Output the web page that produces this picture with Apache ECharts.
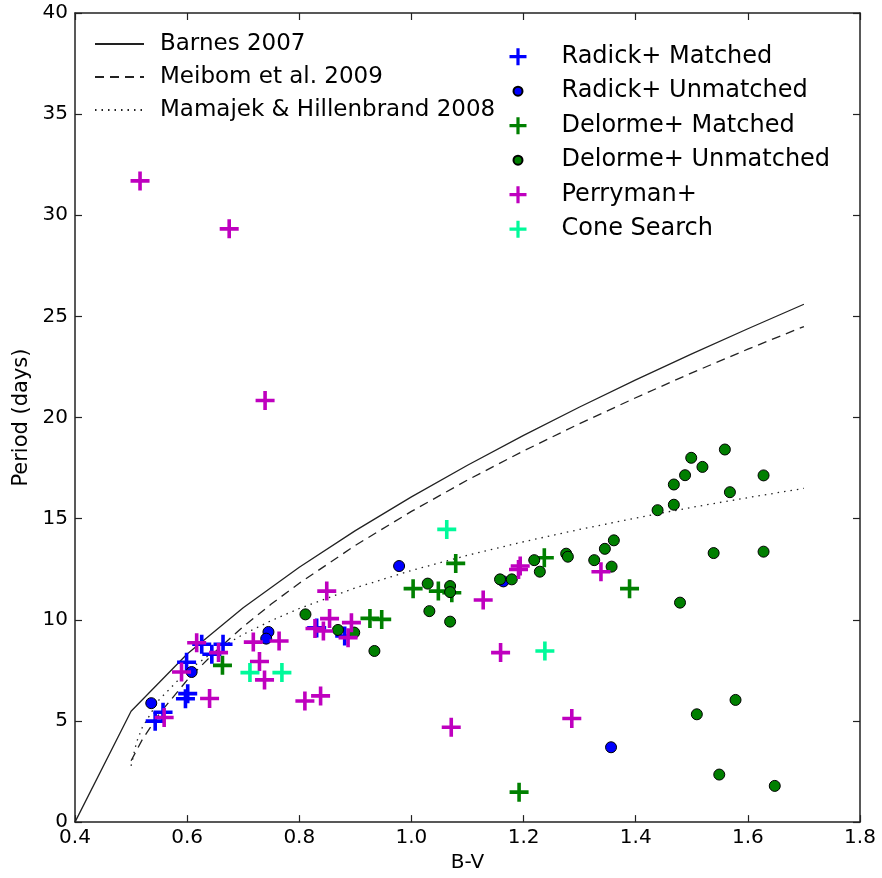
<!DOCTYPE html>
<html>
<head>
<meta charset="utf-8">
<script src="https://cdn.jsdelivr.net/npm/echarts@6/dist/echarts.min.js"></script>
<style>
  html, body { margin: 0; padding: 0; background: #ffffff; }
  #chart { width: 882px; height: 878px; }
</style>
</head>
<body>
<div id="chart"></div>
<script>
// Gyrochronology relations: colour index B-V against rotation period (days)
const barnesBV = [0.4, 0.5, 0.6, 0.7, 0.8, 0.9, 1.0, 1.1, 1.2, 1.3, 1.4, 1.5, 1.6, 1.7];
const barnesP  = [0, 5.48, 8.31, 10.60, 12.60, 14.41, 16.08, 17.64, 19.12, 20.52, 21.86, 23.15, 24.39, 25.60];

const meibomBV = [0.5, 0.52, 0.55, 0.6, 0.65, 0.7, 0.75, 0.8, 0.9, 1.0, 1.1, 1.2, 1.3, 1.4, 1.5, 1.6, 1.7];
const meibomP  = [3.03, 4.08, 5.34, 7.02, 8.42, 9.66, 10.78, 11.81, 13.68, 15.36, 16.91, 18.35, 19.70, 20.98, 22.21, 23.38, 24.50];

const mamajekBV = [0.5, 0.51, 0.52, 0.55, 0.6, 0.65, 0.7, 0.75, 0.8, 0.9, 1.0, 1.1, 1.2, 1.3, 1.4, 1.5, 1.6, 1.7];
const mamajekP  = [2.78, 3.97, 4.68, 6.05, 7.47, 8.47, 9.28, 9.96, 10.56, 11.58, 12.44, 13.19, 13.86, 14.47, 15.03, 15.56, 16.04, 16.50];

// Observed stars: [B-V, period]
const radickMatched = [
  [0.543, 4.99], [0.557, 5.43], [0.597, 6.10], [0.601, 6.35], [0.599, 7.90],
  [0.626, 8.79], [0.644, 8.30], [0.664, 8.79], [0.831, 9.60], [0.881, 9.20]
];
const radickUnmatched = [
  [0.536, 5.88], [0.608, 7.42], [0.745, 9.40], [0.741, 9.07], [0.978, 12.66],
  [1.356, 3.70], [1.164, 11.90]
];
const delormeMatched = [
  [0.663, 7.75], [1.003, 11.54], [1.048, 11.42], [1.072, 11.34], [1.079, 12.79],
  [0.926, 10.07], [0.947, 10.02], [1.237, 13.07], [1.389, 11.54], [1.192, 1.48]
];
const delormeUnmatched = [
  [0.811, 10.27], [0.869, 9.50], [0.898, 9.37], [0.934, 8.46], [1.029, 11.79],
  [1.032, 10.43], [1.069, 11.67], [1.069, 11.37], [1.069, 9.91], [1.158, 12.00],
  [1.179, 12.00], [1.219, 12.95], [1.229, 12.38], [1.276, 13.27], [1.279, 13.12],
  [1.326, 12.95], [1.345, 13.51], [1.361, 13.93], [1.357, 12.63], [1.479, 10.85],
  [1.439, 15.42], [1.468, 15.69], [1.468, 16.69], [1.488, 17.15], [1.499, 18.01],
  [1.519, 17.56], [1.559, 18.42], [1.568, 16.31], [1.628, 17.14], [1.539, 13.30],
  [1.628, 13.37], [1.578, 6.04], [1.509, 5.33], [1.549, 2.35], [1.648, 1.79]
];
const perryman = [
  [0.516, 31.70], [0.675, 29.33], [0.739, 20.84], [0.617, 8.87], [0.656, 8.38],
  [0.590, 7.42], [0.559, 5.17], [0.640, 6.11], [0.718, 8.90], [0.764, 8.95],
  [0.729, 7.94], [0.738, 7.03], [0.810, 5.99], [0.838, 6.24], [0.849, 11.42],
  [0.854, 10.06], [0.828, 9.57], [0.843, 9.45], [0.893, 9.86], [0.887, 9.12],
  [1.128, 10.98], [1.159, 8.38], [1.194, 12.66], [1.191, 12.49], [1.338, 12.38],
  [1.286, 5.12], [1.071, 4.69]
];
const coneSearch = [
  [0.712, 7.39], [0.769, 7.39], [1.063, 14.47], [1.238, 8.46]
];

const xTicks = { min: 0.4, max: 1.8, step: 0.2 };
const yTicks = { min: 0, max: 40, step: 5 };

const FONT = 'DejaVu Sans';
const PLUS = 'path://M7.7,0H11.3V7.7H19V11.3H11.3V19H7.7V11.3H0V7.7H7.7Z';
// legend icons: a fixed box (first two moves) keeps the glyph at its drawn size and to the left
const PLUS_ICON = 'path://M0,0M47,17M6.9,0H10.1V6.9H17V10.1H10.1V17H6.9V10.1H0V6.9H6.9Z';
const DOT_ICON = 'path://M0,0M47,17M4,8.5a4.5,4.5 0 1,0 9,0a4.5,4.5 0 1,0 -9,0Z';

const zip = (xs, ys) => xs.map((x, i) => [x, ys[i]]);

const chart = echarts.init(document.getElementById('chart'), null, { renderer: 'canvas' });

const axisLine = { show: true, onZero: false, lineStyle: { color: '#222', width: 1.5 } };
const tick = { show: true, inside: true, length: 7, lineStyle: { color: '#222', width: 1.2 } };

const lineSeries = (name, data, type) => ({
  name, type: 'line', data, symbol: 'none', showSymbol: false,
  lineStyle: { color: '#222', width: 1.3, type },
  itemStyle: { color: '#222' },
  z: 1, silent: true
});
const scatter = (name, data, symbol, size, color, border) => ({
  name, type: 'scatter', data, symbol, symbolSize: size,
  itemStyle: border
    ? { color, borderColor: '#000', borderWidth: 1, opacity: 1 }
    : { color, opacity: 1 },
  z: 2
});

chart.setOption({
  animation: false,
  backgroundColor: '#ffffff',
  textStyle: { fontFamily: FONT },
  grid: { left: 75, right: 22, top: 13, bottom: 55, containLabel: false },
  xAxis: [
    {
      type: 'value', min: xTicks.min, max: xTicks.max, interval: xTicks.step,
      name: 'B-V', nameLocation: 'middle', nameGap: 27,
      nameTextStyle: { fontFamily: FONT, fontSize: 20, color: '#000' },
      axisLine, axisTick: tick, splitLine: { show: false },
      axisLabel: { fontFamily: FONT, fontSize: 20, color: '#000', margin: 6,
                   formatter: v => v.toFixed(1) }
    },
    {
      type: 'value', position: 'top', min: xTicks.min, max: xTicks.max, interval: xTicks.step,
      axisLine, axisTick: tick, splitLine: { show: false }, axisLabel: { show: false }
    }
  ],
  yAxis: [
    {
      type: 'value', min: yTicks.min, max: yTicks.max, interval: yTicks.step,
      name: 'Period (days)', nameLocation: 'middle', nameGap: 41, nameRotate: 90,
      nameTextStyle: { fontFamily: FONT, fontSize: 21, color: '#000' },
      axisLine, axisTick: tick, splitLine: { show: false },
      axisLabel: { fontFamily: FONT, fontSize: 20, color: '#000', margin: 7 }
    },
    {
      type: 'value', position: 'right', min: yTicks.min, max: yTicks.max, interval: yTicks.step,
      axisLine, axisTick: tick, splitLine: { show: false }, axisLabel: { show: false }
    }
  ],
  legend: [
    {
      orient: 'vertical', left: 94, top: 32.5, padding: 0,
      itemWidth: 49, itemHeight: 14, itemGap: 10,
      // line keys only: the point marker of each key is hidden
      itemStyle: { opacity: 0, borderWidth: 0 },
      textStyle: { fontFamily: FONT, fontSize: 23, lineHeight: 23, color: '#000', padding: [0, 0, 0, 11] },
      data: ['Barnes 2007', 'Meibom et al. 2009', 'Mamajek & Hillenbrand 2008']
    },
    {
      orient: 'vertical', left: 508.5, top: 44.7, padding: 0,
      itemWidth: 47, itemHeight: 17, itemGap: 10.5,
      textStyle: { fontFamily: FONT, fontSize: 24, lineHeight: 24, color: '#000' },
      data: [
        { name: 'Radick+ Matched', icon: PLUS_ICON },
        { name: 'Radick+ Unmatched', icon: DOT_ICON },
        { name: 'Delorme+ Matched', icon: PLUS_ICON },
        { name: 'Delorme+ Unmatched', icon: DOT_ICON },
        { name: 'Perryman+', icon: PLUS_ICON },
        { name: 'Cone Search', icon: PLUS_ICON }
      ]
    }
  ],
  series: [
    lineSeries('Barnes 2007', zip(barnesBV, barnesP), 'solid'),
    lineSeries('Meibom et al. 2009', zip(meibomBV, meibomP), [9, 6]),
    lineSeries('Mamajek & Hillenbrand 2008', zip(mamajekBV, mamajekP), [1.5, 5]),
    scatter('Radick+ Matched', radickMatched, PLUS, 19, '#0000ff', false),
    scatter('Radick+ Unmatched', radickUnmatched, 'circle', 11, '#0000ff', true),
    scatter('Delorme+ Matched', delormeMatched, PLUS, 19, '#008000', false),
    scatter('Delorme+ Unmatched', delormeUnmatched, 'circle', 11, '#007f00', true),
    scatter('Perryman+', perryman, PLUS, 19, '#bf00bf', false),
    scatter('Cone Search', coneSearch, PLUS, 19, '#00fa9a', false)
  ]
});
</script>
</body>
</html>
